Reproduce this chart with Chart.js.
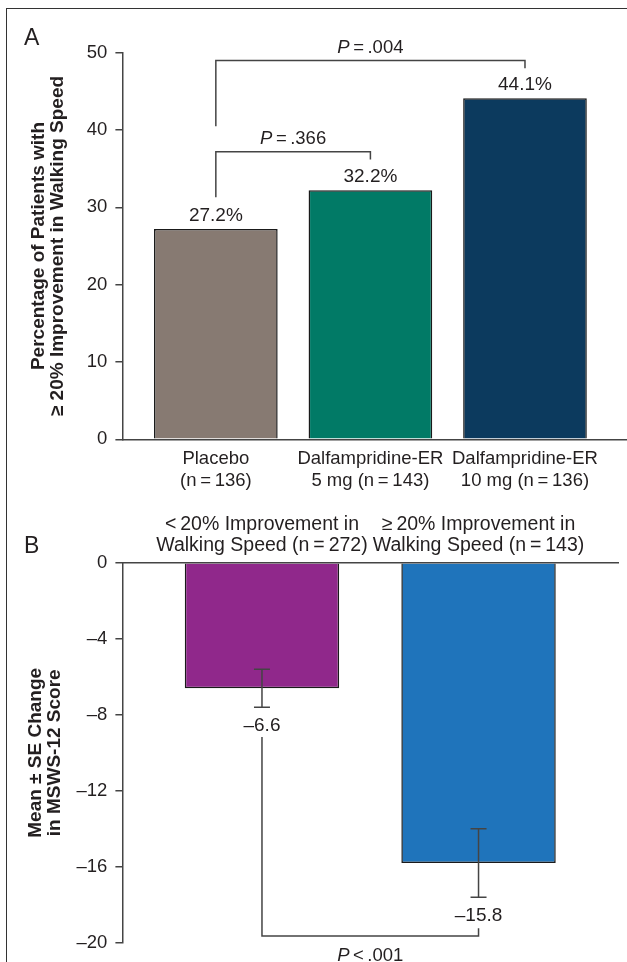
<!DOCTYPE html>
<html>
<head>
<meta charset="utf-8">
<script src="https://cdn.jsdelivr.net/npm/chart.js@4.4.1/dist/chart.umd.min.js"></script>
<style>
html,body{margin:0;padding:0;background:#fff;}
body{width:627px;height:962px;position:relative;overflow:hidden;}
#frame{position:absolute;left:6px;top:8px;width:700px;height:1000px;border-left:1.5px solid #333;border-top:1.5px solid #333;}
#chartA{position:absolute;left:0;top:0;}
#chartB{position:absolute;left:0;top:500px;}
</style>
</head>
<body>
<div id="frame"></div>
<canvas id="chartA" width="627" height="500"></canvas>
<canvas id="chartB" width="627" height="462"></canvas>
<script>
const FONT = '"Liberation Sans", Arial, sans-serif';
const INK = '#231f20';
const LINE = '#444';

/* PANEL A DATA */
const categoriesA = [
  ['Placebo', '(n\u2009=\u2009136)'],
  ['Dalfampridine-ER', '5 mg (n\u2009=\u2009143)'],
  ['Dalfampridine-ER', '10 mg (n\u2009=\u2009136)']
];
const valuesA = [27.2, 32.2, 44.1];
const colorsA = ['#877a72', '#017a66', '#0c3a5e'];
const ticksA = [0, 10, 20, 30, 40, 50];
const titleA = ['Percentage of Patients with', '\u2265 20% Improvement in Walking Speed'];
const pTextsA = [['=', '.004'], ['=', '.366']];

/* PANEL B DATA */
const categoriesB = [
  ['<\u200920% Improvement in', 'Walking Speed (n\u2009=\u2009272)'],
  ['\u2265\u200920% Improvement in', 'Walking Speed (n\u2009=\u2009143)']
];
const valuesB = [-6.6, -15.8];
const seB = [1.0, 1.8];
const colorsB = ['#90288b', '#1f74bb'];
const ticksB = [0, -4, -8, -12, -16, -20];
const titleB = ['Mean \u00b1 SE Change', 'in MSWS-12 Score'];
const pTextsB = [['<', '.001']];

/* bracket placement, in value units */
const bracketsA = [
  {from: 0, to: 2, level: 49, fromEnd: 40.5, toEnd: 48},
  {from: 0, to: 1, level: 37.2, fromEnd: 31.3, toEnd: 36.2}
];
const bracketsB = [
  {from: 0, to: 1, level: -19.64, fromEnd: -9.17, toEnd: -19.23}
];

const dash = v => v < 0 ? '\u2013' + Math.abs(v) : String(v);

function drawP(ctx, cx, baseline, parts, size) {
  ctx.font = 'italic ' + size + 'px ' + FONT;
  const wP = ctx.measureText('P').width;
  ctx.font = size + 'px ' + FONT;
  const w1 = ctx.measureText(parts[0]).width;
  const w2 = ctx.measureText(parts[1]).width;
  const gap = 3.5;
  let x = cx - (wP + w1 + w2 + gap * 2) / 2;
  ctx.textAlign = 'left';
  ctx.textBaseline = 'alphabetic';
  ctx.font = 'italic ' + size + 'px ' + FONT;
  ctx.fillText('P', x, baseline);
  x += wP + gap;
  ctx.font = size + 'px ' + FONT;
  ctx.fillText(parts[0], x, baseline);
  x += w1 + gap;
  ctx.fillText(parts[1], x, baseline);
}

function drawBracket(ctx, x, y, b) {
  const x1 = x.getPixelForValue(b.from + 1);
  const x2 = x.getPixelForValue(b.to + 1);
  const yl = y.getPixelForValue(b.level);
  ctx.beginPath();
  ctx.moveTo(x1, y.getPixelForValue(b.fromEnd));
  ctx.lineTo(x1, yl);
  ctx.lineTo(x2, yl);
  ctx.lineTo(x2, y.getPixelForValue(b.toEnd));
  ctx.stroke();
  return {x1, x2, yl};
}

const annotateA = {
  id: 'annotateA',
  afterDraw(chart) {
    const {ctx, scales: {x, y}} = chart;
    ctx.save();
    ctx.fillStyle = INK;
    ctx.font = '23px ' + FONT;
    ctx.textAlign = 'left';
    ctx.textBaseline = 'alphabetic';
    ctx.fillText('A', 24, 45);

    ctx.font = '19px ' + FONT;
    ctx.textAlign = 'center';
    valuesA.forEach((v, i) => {
      ctx.fillText(v.toFixed(1) + '%', x.getPixelForValue(i + 1), y.getPixelForValue(v) - 8);
    });

    ctx.strokeStyle = LINE;
    ctx.lineWidth = 1.5;
    bracketsA.forEach((b, i) => {
      const p = drawBracket(ctx, x, y, b);
      drawP(ctx, (p.x1 + p.x2) / 2, p.yl - 7.5, pTextsA[i], 18.5);
    });
    ctx.restore();
  }
};

const annotateB = {
  id: 'annotateB',
  afterDraw(chart) {
    const {ctx, scales: {x, y}} = chart;
    ctx.save();
    ctx.fillStyle = INK;
    ctx.font = '23px ' + FONT;
    ctx.textAlign = 'left';
    ctx.textBaseline = 'alphabetic';
    ctx.fillText('B', 24, 53);

    ctx.strokeStyle = LINE;
    ctx.lineWidth = 1.5;
    valuesB.forEach((v, i) => {
      const cx = x.getPixelForValue(i + 1);
      const top = y.getPixelForValue(v + seB[i]);
      const bot = y.getPixelForValue(v - seB[i]);
      ctx.beginPath();
      ctx.moveTo(cx, top); ctx.lineTo(cx, bot);
      ctx.moveTo(cx - 8, top); ctx.lineTo(cx + 8, top);
      ctx.moveTo(cx - 8, bot); ctx.lineTo(cx + 8, bot);
      ctx.stroke();
      ctx.font = '19px ' + FONT;
      ctx.textAlign = 'center';
      ctx.fillText(dash(v.toFixed(1)), cx, bot + 23.5);
    });

    bracketsB.forEach((b, i) => {
      const p = drawBracket(ctx, x, y, b);
      drawP(ctx, (p.x1 + p.x2) / 2, p.yl + 25, pTextsB[i], 18.5);
    });
    ctx.restore();
  }
};

function yAxis(ticks, min, max, title, titlePad) {
  return {
    min: min, max: max,
    afterBuildTicks: s => { s.ticks = ticks.map(v => ({value: v})); },
    afterFit: s => { s.width = 122.4; },
    grid: {display: true, drawOnChartArea: false, drawTicks: true, tickLength: 7, color: LINE, lineWidth: 1.5},
    border: {display: true, color: LINE, width: 1.5, z: 1},
    ticks: {
      color: INK, padding: 8,
      font: {family: FONT, size: 18.5},
      callback: v => dash(v)
    },
    title: {
      display: true, text: title, color: INK,
      font: {family: FONT, size: 19, weight: 'bold', lineHeight: 1},
      padding: {top: titlePad, bottom: 0}
    }
  };
}

function xAxis(cats, min, max, position, height, pad, size, lh) {
  return {
    type: 'linear', position: position, min: min, max: max, offset: false,
    afterBuildTicks: s => { s.ticks = cats.map((c, i) => ({value: i + 1})); },
    afterFit: s => { s.height = height; },
    grid: {display: false, drawTicks: false, tickLength: 0, offset: false},
    border: {display: true, color: LINE, width: 1.5, z: 1},
    ticks: {
      color: INK, padding: pad, autoSkip: false, maxRotation: 0, minRotation: 0,
      font: {family: FONT, size: size, lineHeight: lh},
      callback: v => cats[Math.round(v) - 1]
    }
  };
}

new Chart(document.getElementById('chartA'), {
  type: 'bar',
  data: {
    datasets: [{
      data: valuesA.map((v, i) => ({x: i + 1, y: v})),
      backgroundColor: colorsA,
      borderColor: '#1a1a1a',
      borderWidth: 1.5,
      categoryPercentage: 1,
      barPercentage: 0.8
    }]
  },
  options: {
    responsive: false,
    animation: false,
    layout: {padding: {top: 52.7, right: 0, bottom: 0, left: 0}},
    plugins: {legend: {display: false}, tooltip: {enabled: false}},
    scales: {
      x: xAxis(categoriesA, 0.3955, 3.66, 'bottom', 60.7, 8.5, 18.5, 1.19),
      y: yAxis(ticksA, 0, 50, titleA, 29)
    }
  },
  plugins: [annotateA]
});

new Chart(document.getElementById('chartB'), {
  type: 'bar',
  data: {
    datasets: [{
      data: valuesB.map((v, i) => ({x: i + 1, y: v})),
      backgroundColor: colorsB,
      borderColor: '#1a1a1a',
      borderWidth: 1.5,
      categoryPercentage: 1,
      barPercentage: 0.713
    }]
  },
  options: {
    responsive: false,
    animation: false,
    layout: {padding: {top: 0, right: 9, bottom: 12.7, left: 0}},
    plugins: {legend: {display: false}, tooltip: {enabled: false}},
    scales: {
      x: xAxis(categoriesB, 0.3555, 2.644, 'top', 62.7, 6, 19.5, 1.1),
      y: yAxis(ticksB, -20, 0, titleB, 26)
    }
  },
  plugins: [annotateB]
});
</script>
</body>
</html>
